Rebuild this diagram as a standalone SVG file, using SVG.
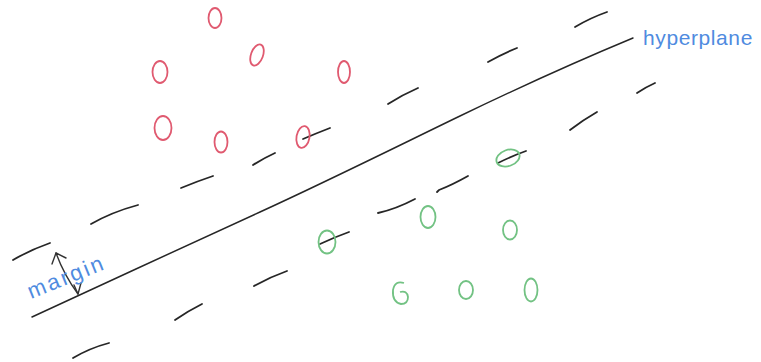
<svg xmlns="http://www.w3.org/2000/svg" width="761" height="362" viewBox="0 0 761 362">
<style>
.dash{fill:none;stroke:#262626;stroke-width:1.8;stroke-linecap:round}
.hp{fill:none;stroke:#262626;stroke-width:1.5;stroke-linecap:round}
.red{fill:none;stroke:#e05a70;stroke-width:1.8}
.grn{fill:none;stroke:#72c283;stroke-width:1.8}
.lbl{font-family:"Liberation Sans",Arial,sans-serif;fill:#4f8be0}
.arr{fill:none;stroke:#333;stroke-width:1.4;stroke-linecap:round;stroke-linejoin:round}
</style>
<rect width="761" height="362" fill="#fff"/>
<g id="connectors">
  <path id="hyperplane-line" class="hp" d="M32,317 C100,285 200,240 260,212 C330,180 400,145 460,116 C520,87 580,60 633,38"/>
  <g id="upper-margin">
    <path class="dash" d="M13,260 Q30,250 50,243"/>
    <path class="dash" d="M91,224 Q112,212 138,205"/>
    <path class="dash" d="M181,188 Q198,181 213,176"/>
    <path class="dash" d="M253,165 Q264,158 275,153"/>
    <path class="dash" d="M303,139 Q317,133 330,128"/>
    <path class="dash" d="M388,104 Q402,95 418,88"/>
    <path class="dash" d="M488,62 Q502,54 517,48"/>
    <path class="dash" d="M575,27 Q590,18 607,12"/>
  </g>
  <g id="lower-margin">
    <path class="dash" d="M73,358 Q90,348 109,343"/>
    <path class="dash" d="M175,320 Q188,311 202,304"/>
    <path class="dash" d="M254,286 Q270,277 287,271"/>
    <path class="dash" d="M320,244 Q335,237 349,232"/>
    <path class="dash" d="M378,213 Q396,209 415,199"/>
    <path class="dash" d="M437,192 L439,190 Q452,185 468,176"/>
    <path class="dash" d="M498,163 Q512,156 526,151"/>
    <path class="dash" d="M570,130 Q583,120 597,112"/>
    <path class="dash" d="M637,93 Q646,87 655,83"/>
  </g>
  <g id="margin-arrow">
    <path class="arr" d="M56,253 Q64,275 78,294"/>
    <path class="arr" d="M52,264 L56,253 L66,258"/>
    <path class="arr" d="M74,285 L78,294 L81,283"/>
  </g>
</g>
<g id="class-red">
  <ellipse class="red" cx="215" cy="18" rx="6.5" ry="10"/>
  <ellipse class="red" cx="257" cy="55" rx="6" ry="11" transform="rotate(20 257 55)"/>
  <ellipse class="red" cx="160" cy="72" rx="7.5" ry="11"/>
  <ellipse class="red" cx="344" cy="72" rx="6" ry="11"/>
  <ellipse class="red" cx="163" cy="128" rx="8.5" ry="12"/>
  <ellipse class="red" cx="221" cy="142" rx="6.5" ry="10.5"/>
  <ellipse class="red" cx="303" cy="137" rx="6.5" ry="11" transform="rotate(10 303 137)"/>
</g>
<g id="class-green">
  <ellipse class="grn" cx="508" cy="158" rx="12" ry="8" transform="rotate(-20 508 158)"/>
  <ellipse class="grn" cx="428" cy="217" rx="7.5" ry="11"/>
  <ellipse class="grn" cx="510" cy="230" rx="7" ry="9.5"/>
  <ellipse class="grn" cx="327" cy="242" rx="8.5" ry="11.5"/>
  <path class="grn" d="M404,283 Q395,280 393,290 Q392,302 401,304 Q408,304 408,297 Q407,290 400,292"/>
  <ellipse class="grn" cx="466" cy="290" rx="7" ry="9"/>
  <ellipse class="grn" cx="531" cy="290" rx="6.5" ry="11.5"/>
</g>
<g id="label-hyperplane">
  <text class="lbl" x="643" y="45" font-size="21" letter-spacing="0.6">hyperplane</text>
</g>
<g id="label-margin">
  <text class="lbl" x="31" y="299" font-size="22" letter-spacing="2.5" transform="rotate(-22 31 299)">margin</text>
</g>
</svg>
